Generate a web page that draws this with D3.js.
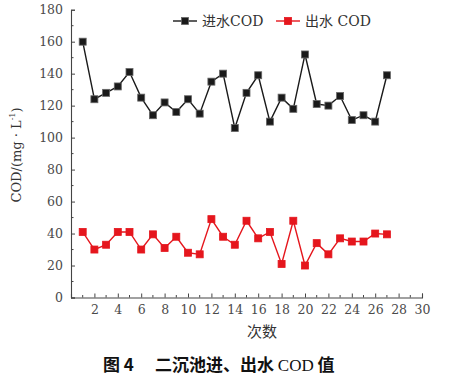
<!DOCTYPE html>
<html>
<head>
<meta charset="utf-8">
<script src="https://cdn.jsdelivr.net/npm/d3@7"></script>
<style>
  body { margin: 0; background: #fff; }
  svg text { font-family: "DejaVu Serif", "Noto Sans CJK SC", serif; fill: #333; }
</style>
</head>
<body>
<div id="chart"></div>
<script>
// -----------------------------
// Data
// -----------------------------
const runs = d3.range(1, 28);
const influent = [160, 124, 128, 132, 141, 125, 114, 122, 116, 124, 115, 135, 140, 106,
  128, 139, 110, 125, 118, 152, 121, 120, 126, 111, 114, 110, 139];
const effluent = [41, 30, 33, 41, 41, 30, 39.5, 31, 38, 28, 27, 49, 38, 33,
  48, 37, 41, 21, 48, 20, 34, 27, 37, 35, 35, 40, 39.5];
const yTicks = d3.range(0, 181, 20);
const xTicks = d3.range(2, 31, 2);

const width = 452, height = 384;
const svg = d3.select("#chart").append("svg")
  .attr("width", width).attr("height", height);

const x = d3.scaleLinear().domain([0, 30]).range([71, 422]);
const y = d3.scaleLinear().domain([0, 180]).range([297.5, 9.7]);

// -----------------------------
// Axes (ticks pointing inward)
// -----------------------------
const axisColor = "#444";
const yAxis = svg.append("g").attr("transform", `translate(${x(0)},0)`)
  .call(d3.axisLeft(y).tickValues(yTicks).tickSize(-4).tickPadding(8));
const xAxis = svg.append("g").attr("transform", `translate(0,${y(0)})`)
  .call(d3.axisBottom(x).tickValues(xTicks).tickSize(-4).tickPadding(8));

[yAxis, xAxis].forEach(g => {
  g.attr("font-family", null);
  g.select(".domain").attr("stroke", axisColor).attr("stroke-width", 1.1);
  g.selectAll(".tick line").attr("stroke", axisColor);
  g.selectAll(".tick text")
    .style("font-family", "DejaVu Serif")
    .style("font-size", "12.5px").style("fill", "#4a4a4a");
});

// minor ticks
svg.append("g").selectAll("line")
  .data(d3.range(10, 180, 20)).join("line")
  .attr("x1", x(0)).attr("x2", x(0) + 2.5)
  .attr("y1", d => y(d)).attr("y2", d => y(d))
  .attr("stroke", axisColor);
svg.append("g").selectAll("line")
  .data(d3.range(1, 30, 2)).join("line")
  .attr("x1", d => x(d)).attr("x2", d => x(d))
  .attr("y1", y(0)).attr("y2", y(0) - 2.5)
  .attr("stroke", axisColor);

// -----------------------------
// Series
// -----------------------------
const line = d3.line().x((d, i) => x(runs[i])).y(d => y(d));
const series = [
  { values: influent, color: "#1a1a1a", edge: "#666" },
  { values: effluent, color: "#e5161d", edge: "#e5161d" }
];
const ms = 7;

series.forEach(s => {
  svg.append("path")
    .attr("d", line(s.values))
    .attr("fill", "none")
    .attr("stroke", s.color)
    .attr("stroke-width", 1.4);
  svg.append("g").selectAll("rect")
    .data(s.values).join("rect")
    .attr("x", (d, i) => x(runs[i]) - ms / 2)
    .attr("y", d => y(d) - ms / 2)
    .attr("width", ms).attr("height", ms)
    .attr("fill", s.color)
    .attr("stroke", s.edge).attr("stroke-width", 0.8);
});

// -----------------------------
// Legend
// -----------------------------
const legendItems = [
  { label: "进水COD", color: "#1a1a1a", edge: "#666", x0: 173 },
  { label: "出水 COD", color: "#e5161d", edge: "#e5161d", x0: 276 }
];
legendItems.forEach(l => {
  const g = svg.append("g").attr("transform", `translate(${l.x0},21)`);
  g.append("line").attr("x1", 0).attr("x2", 24)
    .attr("stroke", l.color).attr("stroke-width", 1.4);
  g.append("rect").attr("x", 12 - 3.5).attr("y", -3.5)
    .attr("width", 7).attr("height", 7)
    .attr("fill", l.color).attr("stroke", l.edge).attr("stroke-width", 0.8);
  g.append("text").attr("x", 29).attr("y", 5)
    .style("font-size", "14px").text(l.label);
});

// -----------------------------
// Axis titles
// -----------------------------
const yl = svg.append("text")
  .attr("transform", `translate(21,155) rotate(-90)`)
  .attr("text-anchor", "middle")
  .style("font-size", "13px");
yl.append("tspan").text("COD/(mg · L");
yl.append("tspan").attr("dy", -6).style("font-size", "8px").text("-1");
yl.append("tspan").attr("dy", 6).text(")");

svg.append("text")
  .attr("x", 262).attr("y", 337)
  .attr("text-anchor", "middle")
  .style("font-size", "15px")
  .text("次数");

// -----------------------------
// Caption
// -----------------------------
const cap = svg.append("text")
  .attr("x", 103).attr("y", 371)
  .style("font-size", "17px")
  .style("font-weight", "bold")
  .style("fill", "#111");
cap.append("tspan").style("font-family", "Noto Sans CJK SC").text("图 4");
cap.append("tspan").attr("x", 155).style("font-family", "Noto Sans CJK SC").text("二沉池进、出水 ");
cap.append("tspan").style("font-family", "Liberation Serif").style("font-weight", "normal").text("COD");
cap.append("tspan").style("font-family", "Noto Sans CJK SC").text(" 值");
</script>
</body>
</html>
